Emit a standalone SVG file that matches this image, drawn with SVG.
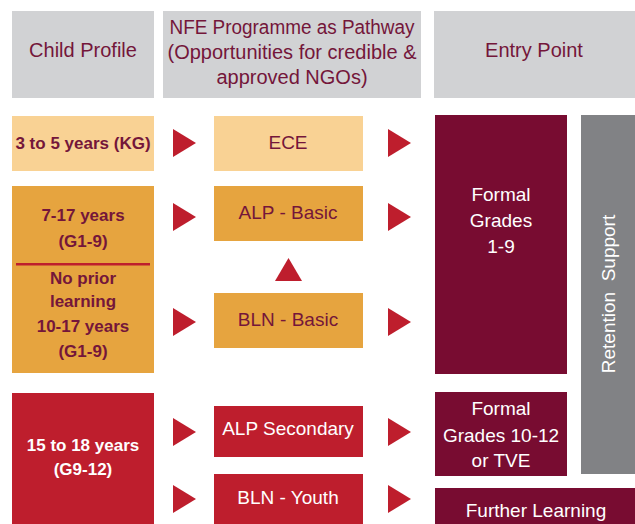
<svg xmlns="http://www.w3.org/2000/svg" width="635" height="524" viewBox="0 0 635 524">
<defs>
<style>
.hdr{fill:#D1D2D4}
.ht{font-family:"Liberation Sans",Arial,sans-serif;font-size:20px;fill:#74163A;text-anchor:middle}
.bt{font-family:"Liberation Sans",Arial,sans-serif;font-size:17px;font-weight:bold;text-anchor:middle}
.nt{font-family:"Liberation Sans",Arial,sans-serif;font-size:19px;text-anchor:middle}
.mr{fill:#74163A}
.wh{fill:#FFFFFF}
.arr{fill:#BE1E2D}
</style>
</defs>
<rect width="635" height="524" fill="#FFFFFF"/>
<g id="hdr-child"><rect class="hdr" x="12" y="11" width="142" height="87"/><text class="ht" x="83" y="57">Child Profile</text></g>
<g id="hdr-nfe"><rect class="hdr" x="163" y="11" width="258" height="87"/>
<text class="ht" x="292" y="34" textLength="245" lengthAdjust="spacingAndGlyphs">NFE Programme as Pathway</text>
<text class="ht" x="292" y="59">(Opportunities for credible &amp;</text>
<text class="ht" x="292" y="84">approved NGOs)</text></g>
<g id="hdr-entry"><rect class="hdr" x="434" y="11" width="201" height="87"/><text class="ht" x="534" y="57">Entry Point</text></g>

<g id="kg"><rect x="12" y="116" width="142" height="55" fill="#F9D294"/><text class="bt mr" x="83" y="149">3 to 5 years (KG)</text></g>
<g id="ece"><rect x="214" y="116" width="149" height="55" fill="#F9D294"/><text class="nt mr" x="288" y="149">ECE</text></g>

<g id="g19"><rect x="12" y="186" width="142" height="187" fill="#E6A43F"/>
<text class="bt mr" x="83" y="221">7-17 years</text>
<text class="bt mr" x="83" y="247">(G1-9)</text>
<rect x="16" y="263" width="134" height="2.5" fill="#BE1E2D"/>
<text class="bt mr" x="83" y="284">No prior</text>
<text class="bt mr" x="83" y="307">learning</text>
<text class="bt mr" x="83" y="332">10-17 years</text>
<text class="bt mr" x="83" y="357">(G1-9)</text></g>
<g id="alp-basic"><rect x="214" y="186" width="149" height="55" fill="#E6A43F"/><text class="nt mr" x="288" y="219">ALP - Basic</text></g>
<g id="bln-basic"><rect x="214" y="293" width="149" height="55" fill="#E6A43F"/><text class="nt mr" x="288" y="326">BLN - Basic</text></g>

<g id="g912"><rect x="12" y="393" width="142" height="131" fill="#BE1E2D"/>
<text class="bt wh" x="83" y="451">15 to 18 years</text>
<text class="bt wh" x="83" y="475">(G9-12)</text></g>
<g id="alp-sec"><rect x="214" y="406" width="149" height="51" fill="#BE1E2D"/><text class="nt wh" x="288" y="435">ALP Secondary</text></g>
<g id="bln-youth"><rect x="214" y="474" width="149" height="50" fill="#BE1E2D"/><text class="nt wh" x="288" y="504">BLN - Youth</text></g>

<g id="formal19"><rect x="435" y="115" width="132" height="259" fill="#780C31"/>
<text class="nt wh" x="501" y="201">Formal</text>
<text class="nt wh" x="501" y="227">Grades</text>
<text class="nt wh" x="501" y="253">1-9</text></g>
<g id="formal1012"><rect x="435" y="392" width="132" height="84" fill="#780C31"/>
<text class="nt wh" x="501" y="415">Formal</text>
<text class="nt wh" x="501" y="442">Grades 10-12</text>
<text class="nt wh" x="501" y="467">or TVE</text></g>
<g id="further"><rect x="435" y="488" width="200" height="36" fill="#780C31"/><text class="nt wh" x="536" y="517">Further Learning</text></g>
<g id="retention"><rect x="581" y="115" width="54" height="359" fill="#818285"/>
<text class="nt wh" transform="translate(615,294) rotate(-90)" x="0" y="0" xml:space="preserve">Retention  Support</text></g>

<g id="connectors">
<polygon class="arr" points="173,129 196,143 173,157"/>
<polygon class="arr" points="173,203 196,217 173,231"/>
<polygon class="arr" points="173,308 196,322 173,336"/>
<polygon class="arr" points="173,418 196,432 173,446"/>
<polygon class="arr" points="173,485 196,499 173,513"/>
<polygon class="arr" points="388,129 411,143 388,157"/>
<polygon class="arr" points="388,203 411,217 388,231"/>
<polygon class="arr" points="388,308 411,322 388,336"/>
<polygon class="arr" points="388,418 411,432 388,446"/>
<polygon class="arr" points="388,485 411,499 388,513"/>
<polygon class="arr" points="275,281 288.5,258 302,281"/>
</g>
</svg>
